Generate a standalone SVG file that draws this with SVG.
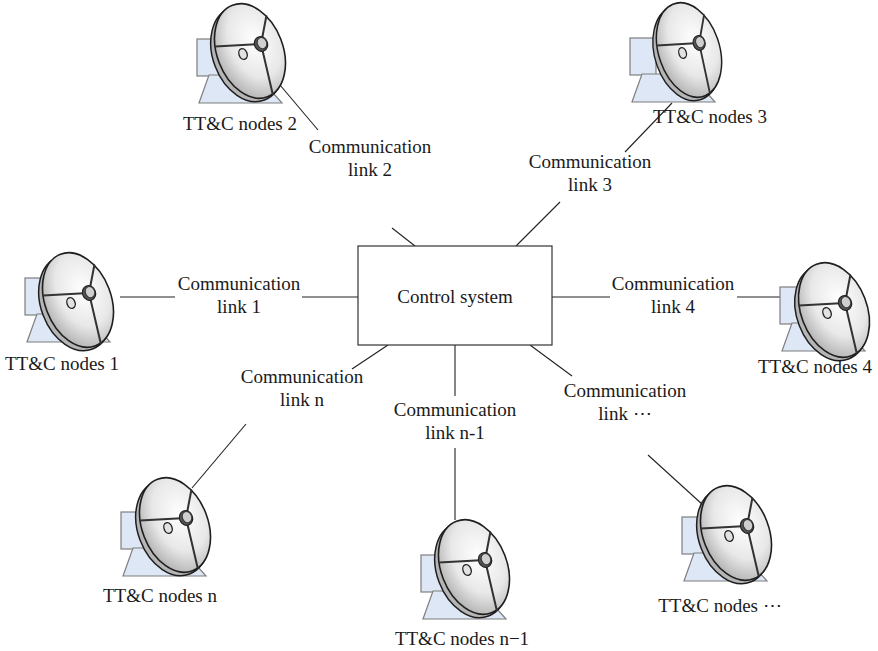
<svg xmlns="http://www.w3.org/2000/svg" xmlns:xlink="http://www.w3.org/1999/xlink" width="878" height="651" viewBox="0 0 878 651">
  <style>
    .lbl { font-family: "Liberation Serif", "Times New Roman", serif; font-size: 19px; fill: #1a1a1a; text-anchor: middle; }
    .link { stroke: #222; stroke-width: 1.1; fill: none; }
    .box { fill: #ffffff; stroke: #333; stroke-width: 1.2; }
    .mount { fill: #dde7f5; stroke: #7f7f7f; stroke-width: 1.2; }
    .rimBack { fill: #b5b5b5; stroke: #1e1e1e; stroke-width: 1.5; }
    .rimFront { fill: url(#dishGrad); stroke: #1e1e1e; stroke-width: 1.6; }
    .spoke { stroke: #333; stroke-width: 2; fill: none; stroke-linecap: round; }
  </style>
  <defs>
    <radialGradient id="dishGrad" cx="62%" cy="42%" r="70%">
      <stop offset="0" stop-color="#ffffff"/>
      <stop offset="0.55" stop-color="#e8e8e8"/>
      <stop offset="1" stop-color="#a9a9a9"/>
    </radialGradient>
    <!-- antenna stand: box plus trapezoid foot, origin at box top-left -->
    <g id="mount">
      <rect class="mount" x="0" y="0" width="26" height="37"/>
      <polygon class="mount" points="12,36 60,36 85,64 2,64"/>
    </g>
    <!-- parabolic dish, origin at dish centre -->
    <g id="dish">
      <g transform="rotate(-21)">
        <ellipse class="rimBack" cx="-4" cy="2" rx="34" ry="49"/>
        <ellipse class="rimFront" cx="0" cy="0" rx="33" ry="49"/>
        <path class="spoke" d="M12.8,-2.6 L-31,-16.7 M12.8,-2.6 L27.7,-26.6 M12.8,-2.6 L5.8,48.2"/>
        <ellipse cx="-7.6" cy="0.3" rx="4" ry="5.5" fill="#e2e2e2" stroke="#222" stroke-width="1.4"/>
        <ellipse cx="12.8" cy="-2.6" rx="6.5" ry="7.5" fill="#555" stroke="#222" stroke-width="1.2"/>
        <ellipse cx="14" cy="-3.1" rx="4.6" ry="5.8" fill="#cfcfcf" stroke="#333" stroke-width="1"/>
      </g>
    </g>
  </defs>

  <rect width="878" height="651" fill="#ffffff"/>

  <!-- connectors between the control system and each node -->
  <g id="connectors">
    <line class="link" x1="120" y1="297" x2="175" y2="297"/>
    <line class="link" x1="302" y1="297" x2="358" y2="297"/>
    <line class="link" x1="280" y1="85" x2="318" y2="130"/>
    <line class="link" x1="392" y1="228" x2="415" y2="246"/>
    <line class="link" x1="516" y1="246" x2="560" y2="202"/>
    <line class="link" x1="625" y1="152" x2="672" y2="103"/>
    <line class="link" x1="552" y1="297" x2="610" y2="297"/>
    <line class="link" x1="737" y1="297" x2="792" y2="297"/>
    <line class="link" x1="455" y1="345" x2="455" y2="396"/>
    <line class="link" x1="455" y1="448" x2="455" y2="520"/>
    <line class="link" x1="388" y1="345" x2="352" y2="369"/>
    <line class="link" x1="246" y1="424" x2="192" y2="488"/>
    <line class="link" x1="530" y1="345" x2="572" y2="376"/>
    <line class="link" x1="648" y1="455" x2="703" y2="505"/>
  </g>

  <!-- link labels -->
  <g id="link-labels">
    <text class="lbl" x="239" y="290">Communication</text>
    <text class="lbl" x="239" y="313">link 1</text>
    <text class="lbl" x="370" y="153">Communication</text>
    <text class="lbl" x="370" y="176">link 2</text>
    <text class="lbl" x="590" y="168">Communication</text>
    <text class="lbl" x="590" y="191">link 3</text>
    <text class="lbl" x="673" y="290">Communication</text>
    <text class="lbl" x="673" y="313">link 4</text>
    <text class="lbl" x="302" y="383">Communication</text>
    <text class="lbl" x="302" y="406">link n</text>
    <text class="lbl" x="455" y="416">Communication</text>
    <text class="lbl" x="455" y="439">link n-1</text>
    <text class="lbl" x="625" y="397">Communication</text>
    <text class="lbl" x="625" y="420">link ⋯</text>
  </g>

  <g id="control-system">
    <rect class="box" x="358" y="246" width="194" height="99"/>
    <text class="lbl" x="455" y="303">Control system</text>
  </g>

  <g id="node-1">
    <use xlink:href="#mount" href="#mount" transform="translate(25,278)"/>
    <use xlink:href="#dish" href="#dish" transform="translate(78,300)"/>
    <text class="lbl" x="62" y="370">TT&amp;C nodes 1</text>
  </g>
  <g id="node-2">
    <use xlink:href="#mount" href="#mount" transform="translate(197,39)"/>
    <use xlink:href="#dish" href="#dish" transform="translate(250,51)"/>
    <text class="lbl" x="240" y="130">TT&amp;C nodes 2</text>
  </g>
  <g id="node-3">
    <use xlink:href="#mount" href="#mount" transform="translate(630,38)"/>
    <use xlink:href="#dish" href="#dish" transform="translate(689,50) scale(0.92,1)"/>
    <text class="lbl" x="710" y="123">TT&amp;C nodes 3</text>
  </g>
  <g id="node-4">
    <use xlink:href="#mount" href="#mount" transform="translate(780,287)"/>
    <use xlink:href="#dish" href="#dish" transform="translate(834,310)"/>
    <text class="lbl" x="815" y="373">TT&amp;C nodes 4</text>
  </g>
  <g id="node-n">
    <use xlink:href="#mount" href="#mount" transform="translate(121,512)"/>
    <use xlink:href="#dish" href="#dish" transform="translate(175,525)"/>
    <text class="lbl" x="160" y="602">TT&amp;C nodes n</text>
  </g>
  <g id="node-n-1">
    <use xlink:href="#mount" href="#mount" transform="translate(421,555)"/>
    <use xlink:href="#dish" href="#dish" transform="translate(474,567)"/>
    <text class="lbl" x="462" y="645">TT&amp;C nodes n−1</text>
  </g>
  <g id="node-etc">
    <use xlink:href="#mount" href="#mount" transform="translate(682,517)"/>
    <use xlink:href="#dish" href="#dish" transform="translate(736,533)"/>
    <text class="lbl" x="720" y="612">TT&amp;C nodes ⋯</text>
  </g>
</svg>
